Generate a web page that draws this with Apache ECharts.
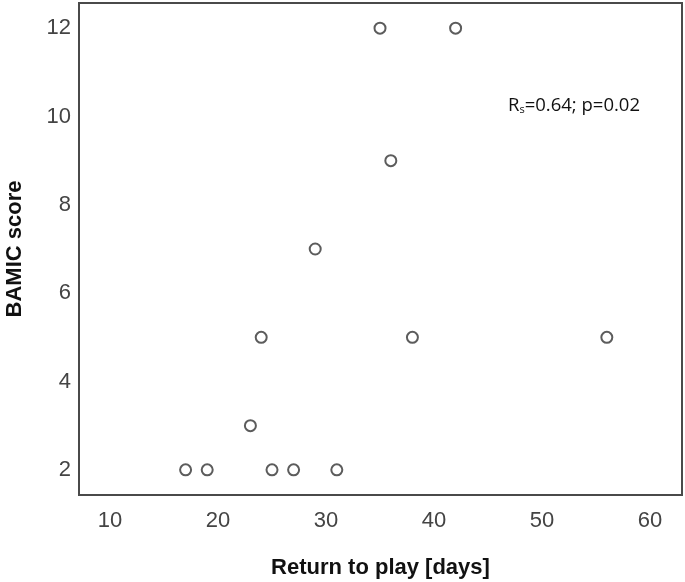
<!DOCTYPE html>
<html>
<head>
<meta charset="utf-8">
<script src="https://cdn.jsdelivr.net/npm/echarts@6/dist/echarts.min.js"></script>
<style>html,body{margin:0;padding:0;background:#fff;}#c{width:685px;height:582px;}</style>
</head>
<body>
<div id="c"></div>
<script>
var returnDays = [17, 19, 23, 24, 25, 27, 29, 31, 35, 36, 38, 42, 56];
var bamicScore = [2, 2, 3, 5, 2, 2, 7, 2, 12, 9, 5, 12, 5];
var xTicks = [10, 20, 30, 40, 50, 60];
var yTicks = [2, 4, 6, 8, 10, 12];
var xTitle = 'Return to play [days]';
var yTitle = 'BAMIC score';

var points = returnDays.map(function (d, i) { return [d, bamicScore[i]]; });

var chart = echarts.init(document.getElementById('c'));
chart.setOption({
  animation: false,
  backgroundColor: '#fff',
  grid: { left: 79, top: 3, right: 3, bottom: 87, outerBoundsMode: 'none', containLabel: false,
          show: true, borderColor: '#4a4a4a', borderWidth: 2, backgroundColor: 'transparent' },
  xAxis: {
    type: 'value', min: 7.13, max: 62.96,
    name: xTitle, nameLocation: 'middle', nameGap: 62,
    nameTextStyle: { fontFamily: 'Liberation Sans', fontWeight: 'bold', fontSize: 22, color: '#111' },
    axisLine: { show: false }, axisTick: { show: false }, splitLine: { show: false },
    axisLabel: { customValues: xTicks, fontFamily: 'Liberation Sans', fontSize: 22, color: '#444', margin: 15 }
  },
  yAxis: {
    type: 'value', min: 1.43, max: 12.57,
    name: yTitle, nameLocation: 'middle', nameGap: 53,
    nameTextStyle: { fontFamily: 'Liberation Sans', fontWeight: 'bold', fontSize: 22, color: '#111' },
    axisLine: { show: false }, axisTick: { show: false }, splitLine: { show: false },
    axisLabel: { customValues: yTicks, fontFamily: 'Liberation Sans', fontSize: 22, color: '#444', margin: 8 }
  },
  series: [{
    type: 'scatter',
    data: points,
    symbol: 'circle',
    symbolSize: 11,
    itemStyle: { color: '#fff', borderColor: '#333', borderWidth: 2 }
  }],
  graphic: [{
    type: 'text',
    left: 508, top: 96,
    style: {
      text: '{r|R}{s|s}{t|=0.64; p=0.02}',
      rich: {
        r: { fontFamily: 'Open Sans', fontSize: 18.5, fill: '#111', lineHeight: 22, verticalAlign: 'bottom' },
        s: { fontFamily: 'Open Sans', fontSize: 11, fill: '#111', lineHeight: 10, verticalAlign: 'bottom' },
        t: { fontFamily: 'Open Sans', fontSize: 18.5, fill: '#111', lineHeight: 22, verticalAlign: 'bottom' }
      }
    }
  }]
});
</script>
</body>
</html>
